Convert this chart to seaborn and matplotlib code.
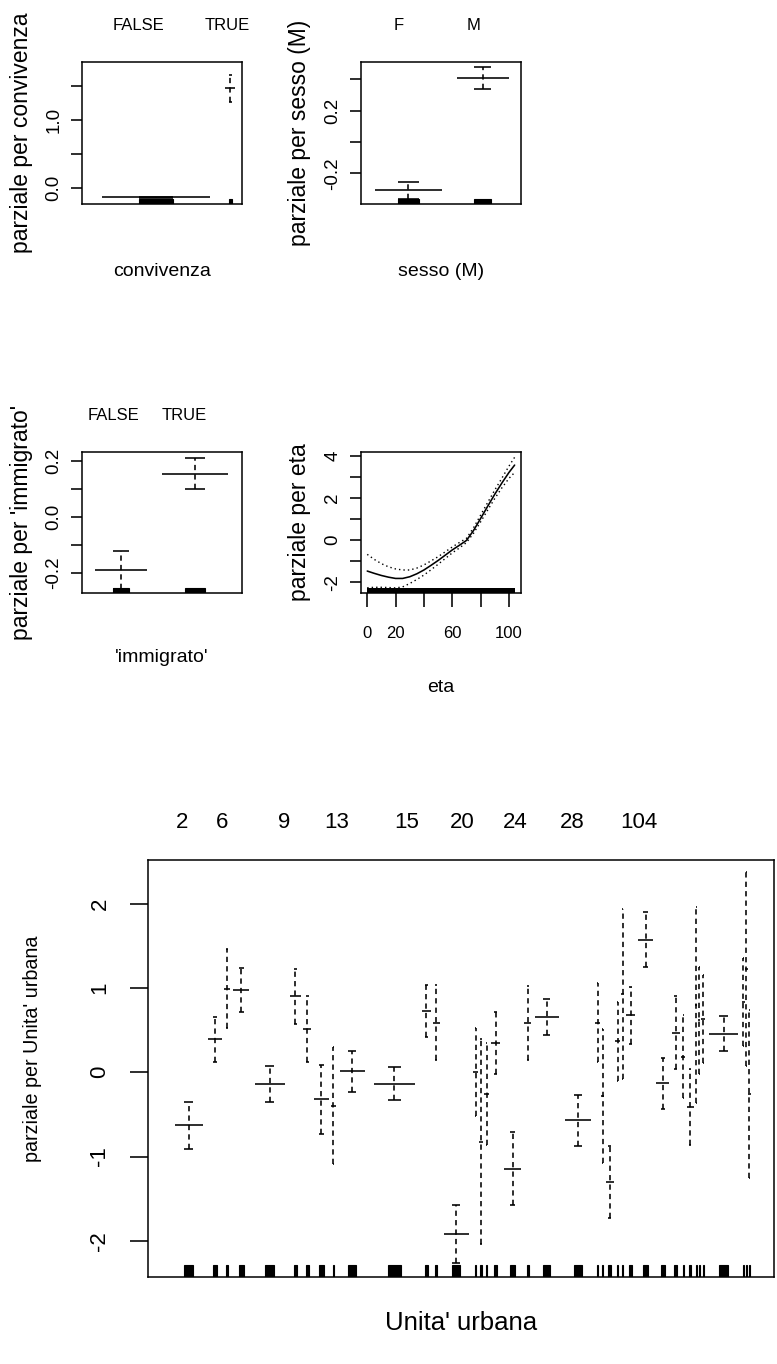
import numpy as np
import matplotlib.pyplot as plt
import seaborn as sns

# ---- data (partial effects of a gam fit) ----
# convivenza
conv_levels = ["FALSE", "TRUE"]
conv_counts = [136, 12]
conv_fit = [-0.14, 1.46]
conv_band = [0.01, 0.20]
conv_label_at = [50.8, 139.6]

# sesso (M)
sesso_levels = ["F", "M"]
sesso_counts = [83, 65]
sesso_fit = [-0.307, 0.408]
sesso_band = [0.053, 0.068]
sesso_label_at = [31.4, 106.4]

# 'immigrato'
imm_levels = ["FALSE", "TRUE"]
imm_counts = [66, 82]
imm_fit = [-0.19, 0.154]
imm_band = [0.068, 0.055]
imm_label_at = [25.4, 96.3]

# eta (smooth term)
eta_age = [0, 5, 10, 15, 20, 25, 30, 35, 40, 45, 50, 55, 60, 65, 70, 75, 80, 85, 90, 95, 100, 104]
eta_fit = [-1.47, -1.58, -1.68, -1.76, -1.82, -1.82, -1.74, -1.60, -1.42, -1.20, -0.97, -0.72,
           -0.47, -0.25, -0.02, 0.45, 1.02, 1.60, 2.17, 2.70, 3.20, 3.55]
eta_upper = [-0.68, -0.92, -1.12, -1.27, -1.37, -1.42, -1.42, -1.33, -1.18, -0.99, -0.79, -0.56,
             -0.33, -0.12, 0.08, 0.58, 1.18, 1.78, 2.37, 2.93, 3.50, 3.92]
eta_lower = [-2.26, -2.24, -2.24, -2.25, -2.27, -2.22, -2.06, -1.87, -1.66, -1.41, -1.15, -0.88,
             -0.61, -0.38, -0.12, 0.32, 0.86, 1.42, 1.97, 2.47, 2.92, 3.20]
eta_range = [0, 104]

# Unita' urbana (40 levels)
uu_counts = [35, 17, 8, 20, 37, 14, 10, 18, 6, 32, 52, 12, 8, 32, 6, 5, 6, 12, 22, 8,
             30, 33, 6, 4, 10, 6, 4, 12, 18, 16, 10, 5, 9, 3, 3, 5, 36, 3, 3, 3]
uu_fit = [-0.63, 0.39, 0.99, 0.975, -0.135, 0.90, 0.515, -0.32, -0.395, 0.01,
          -0.135, 0.73, 0.59, -1.92, 0.00, -0.825, -0.26, 0.35, -1.145, 0.585,
          0.655, -0.57, 0.59, -0.285, -1.305, 0.37, 0.93, 0.675, 1.575, -0.13,
          0.47, 0.185, -0.41, 0.80, 0.615, 0.63, 0.46, 0.835, 1.23, -0.26]
uu_band = [0.28, 0.27, 0.47, 0.265, 0.215, 0.33, 0.395, 0.41, 0.695, 0.243,
           0.195, 0.31, 0.45, 0.34, 0.52, 1.215, 0.605, 0.367, 0.435, 0.435,
           0.215, 0.30, 0.47, 0.795, 0.425, 0.47, 1.01, 0.335, 0.325, 0.30,
           0.43, 0.495, 0.45, 1.165, 0.635, 0.52, 0.21, 0.525, 1.15, 1.00]
uu_labels = ["2", "6", "9", "13", "15", "20", "24", "28", "104"]
uu_label_at = [10.5, 51.1, 113.1, 165.5, 235.5, 290.5, 343.8, 400.5, 467.1]

# ---- style ----
sns.set_style("white")
plt.rcParams["font.family"] = ["Liberation Sans", "DejaVu Sans"]
plt.rcParams["axes.linewidth"] = 1.1
plt.rcParams["axes.edgecolor"] = "black"
plt.rcParams["text.color"] = "black"
plt.rcParams["axes.labelcolor"] = "black"
plt.rcParams["xtick.color"] = "black"
plt.rcParams["ytick.color"] = "black"
FONT = ["Liberation Sans", "DejaVu Sans"]
LW = 1.15
DASH = (0, (3.3, 2.6))

W, H = 777, 1364
fig = plt.figure(figsize=(W / 100, H / 100), dpi=100)


def panel(x0, y0, x1, y1):
    return fig.add_axes([x0 / W, 1 - y1 / H, (x1 - x0) / W, (y1 - y0) / H])


def factor_panel(ax, counts, fit, band, ylim, rug_frac=0.035):
    n = np.asarray(counts, float)
    fit = np.asarray(fit, float)
    band = np.asarray(band, float)
    right = np.cumsum(n)
    mid = right - n / 2
    total = right[-1]
    ax.set_xlim(-0.04 * total, 1.04 * total)
    ax.set_ylim(*ylim)
    ax.hlines(fit, mid - 0.4 * n, mid + 0.4 * n, color="black", lw=LW)
    ax.vlines(mid, fit - band, fit + band, color="black", lw=LW, linestyles=[DASH])
    for s in (1, -1):
        ax.hlines(fit + s * band, mid - n / 8, mid + n / 8, color="black", lw=LW)
    rug_h = rug_frac * (ylim[1] - ylim[0])
    ax.bar(mid, rug_h, width=n / 4, bottom=ylim[0], color="black",
           edgecolor="black", lw=0.8)


def top_labels(ax, at, labels, size, pad):
    ax.set_xticks(at, labels, fontsize=size, family=FONT)
    ax.xaxis.set_ticks_position("top")
    ax.tick_params(axis="x", length=0, pad=pad)


def y_axis(ax, ticks, labels, size, length, pad):
    ax.set_yticks(ticks, labels, rotation=90, va="center", ha="center",
                  fontsize=size, family=FONT)
    ax.tick_params(axis="y", left=True, length=length, width=LW, pad=pad,
                   direction="out", color="black")


def labels(ax, xlabel, ylabel, xsize, ysize, xy, yx, yy=0.5):
    ax.set_xlabel(xlabel, fontsize=xsize, family=FONT)
    ax.xaxis.set_label_position("bottom")
    ax.xaxis.set_label_coords(0.5, xy)
    ax.set_ylabel(ylabel, fontsize=ysize, family=FONT)
    ax.yaxis.set_label_coords(yx, yy)


# convivenza
ax = panel(82, 62, 242, 204)
factor_panel(ax, conv_counts, conv_fit, conv_band, (-0.24, 1.85))
top_labels(ax, conv_label_at, conv_levels, 12, 21)
y_axis(ax, [0, 0.5, 1.0, 1.5], ["0.0", "", "1.0", ""], 13.5, 7.7, 12.5)
labels(ax, "convivenza", "parziale per convivenza", 14, 16.5, -0.412, -0.304)

# sesso
ax = panel(361, 62, 521, 204)
factor_panel(ax, sesso_counts, sesso_fit, sesso_band, (-0.395, 0.511))
top_labels(ax, sesso_label_at, sesso_levels, 12, 21)
y_axis(ax, [-0.2, 0.0, 0.2, 0.4], ["-0.2", "", "0.2", ""], 13.5, 7.7, 12.5)
labels(ax, "sesso (M)", "parziale per sesso (M)", 14, 16.5, -0.412, -0.314)

# immigrato
ax = panel(82, 452, 242, 593)
factor_panel(ax, imm_counts, imm_fit, imm_band, (-0.273, 0.232))
top_labels(ax, imm_label_at, imm_levels, 12, 21)
y_axis(ax, [-0.2, -0.1, 0.0, 0.1, 0.2], ["-0.2", "", "0.0", "", "0.2"], 13.5, 7.7, 12.5)
labels(ax, "'immigrato'", "parziale per 'immigrato'", 14, 16.5, -0.399, -0.304)

# eta
ax = panel(361, 452, 521, 593)
eta_ylim = (-2.51, 4.17)
sns.lineplot(x=eta_age, y=eta_fit, ax=ax, color="black", lw=LW)
sns.lineplot(x=eta_age, y=eta_upper, ax=ax, color="black", lw=1.0, linestyle=(0, (1, 2.2)))
sns.lineplot(x=eta_age, y=eta_lower, ax=ax, color="black", lw=1.0, linestyle=(0, (1, 2.2)))
ax.fill_between(eta_range, eta_ylim[0], eta_ylim[0] + 0.035 * (eta_ylim[1] - eta_ylim[0]),
                color="black", lw=0)
ax.set_xlim(-4.4, 108.5)
ax.set_ylim(*eta_ylim)
ax.set_xticks([0, 20, 40, 60, 80, 100], ["0", "20", "", "60", "", "100"],
              fontsize=12, family=FONT)
ax.tick_params(axis="x", bottom=True, length=10.3, width=LW, pad=13.4, color="black")
y_axis(ax, [-2, -1, 0, 1, 2, 3, 4], ["-2", "", "0", "", "2", "", "4"], 13.5, 7.7, 12.5)
ax.set_xlabel("eta", fontsize=14, family=FONT)
ax.xaxis.set_label_coords(0.5, -0.611)
ax.set_ylabel("parziale per eta", fontsize=16.5, family=FONT)
ax.yaxis.set_label_coords(-0.314, 0.5)

# Unita' urbana
ax = panel(148, 860, 774, 1277)
factor_panel(ax, uu_counts, uu_fit, uu_band, (-2.43, 2.52), rug_frac=0.029)
top_labels(ax, uu_label_at, uu_labels, 16, 19.7)
y_axis(ax, [-2, -1, 0, 1, 2], ["-2", "-1", "0", "1", "2"], 16, 13, 21.6)
labels(ax, "Unita' urbana", "parziale per Unita' urbana", 18.5, 14.2, -0.0815, -0.170, yy=0.547)

fig.savefig("out.png", dpi=100)
